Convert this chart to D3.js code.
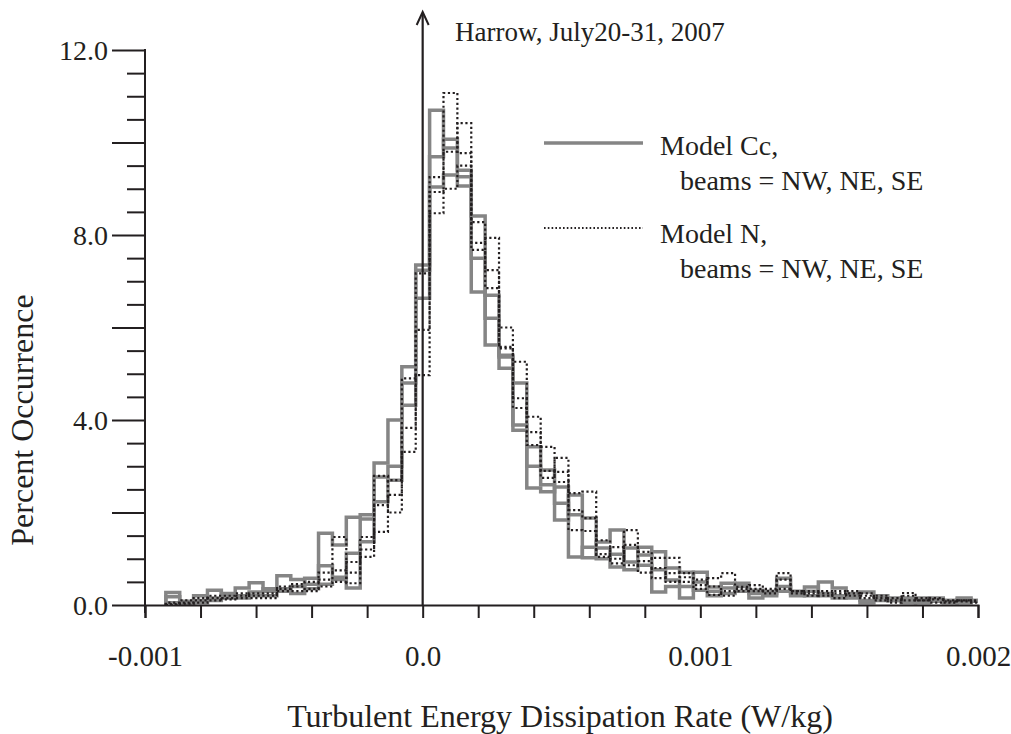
<!DOCTYPE html>
<html><head><meta charset="utf-8">
<script src="https://cdn.jsdelivr.net/npm/d3@7/dist/d3.min.js"></script>
<style>
body{margin:0;background:#fff;}
svg{display:block;}
text{font-family:"Liberation Serif","Times New Roman",serif;fill:#231f20;}
</style></head>
<body>
<svg id="chart" width="1011" height="734"></svg>
<script>
// ---- data ----
const binWidth = 0.00005;
const binK = d3.range(-18, 41); // bin centres = k * binWidth
const ccNW = [0.27,0.05,0.2,0.32,0.15,0.37,0.48,0.3,0.63,0.55,0.45,1.55,1.3,1.9,1.95,3.07,4.0,5.15,7.35,10.7,9.88,9.26,6.77,5.62,5.36,3.78,2.53,2.45,2.55,1.95,1.02,1.36,1.62,0.93,1.25,0.76,0.54,0.15,0.71,0.39,0.37,0.47,0.32,0.2,0.58,0.3,0.2,0.5,0.37,0.2,0.28,0.2,0.1,0.15,0.12,0.15,0.1,0.15,0.1];
const ccNE = [0.18,0.08,0.1,0.15,0.2,0.2,0.28,0.35,0.35,0.25,0.58,0.85,0.6,1.12,1.86,2.77,2.7,4.8,7.24,9.69,10.07,9.4,7.5,6.2,5.12,3.89,3.42,2.92,1.84,2.38,1.88,1.23,0.82,1.23,1.08,1.15,0.8,0.71,0.32,0.3,0.47,0.3,0.25,0.3,0.3,0.25,0.39,0.2,0.15,0.25,0.05,0.15,0.1,0.05,0.15,0.1,0.05,0.12,0.1];
const ccSE = [0.05,0.03,0.05,0.1,0.25,0.15,0.2,0.2,0.3,0.4,0.35,0.45,0.55,0.37,1.37,2.23,3.0,4.32,6.63,9.04,9.3,9.06,8.41,6.7,5.4,4.8,3.0,2.6,2.2,1.04,1.25,1.0,1.1,0.76,0.86,0.28,0.4,0.4,0.5,0.2,0.25,0.4,0.15,0.25,0.4,0.2,0.3,0.25,0.2,0.15,0.1,0.1,0.15,0.1,0.05,0.08,0.1,0.05,0.08];
const nNW = [0.05,0.05,0.1,0.15,0.12,0.2,0.25,0.25,0.4,0.45,0.5,0.7,0.75,0.93,1.04,1.58,2.38,3.31,4.97,8.47,11.07,9.77,8.28,7.24,5.55,4.47,4.07,3.42,2.66,2.05,1.88,1.4,0.9,1.62,1.15,0.58,0.69,0.69,0.43,0.58,0.69,0.39,0.43,0.3,0.69,0.25,0.3,0.2,0.25,0.3,0.15,0.2,0.1,0.26,0.1,0.12,0.08,0.1,0.05];
const nNE = [0.02,0.1,0.15,0.1,0.15,0.15,0.2,0.2,0.35,0.4,0.35,0.55,1.47,0.47,1.47,2.16,2.7,3.83,5.95,9.25,9.8,10.42,7.83,7.94,6.0,5.26,3.74,2.75,3.18,2.42,2.45,1.04,1.25,0.86,0.95,1.02,1.02,0.5,0.35,0.22,0.3,0.35,0.3,0.35,0.55,0.3,0.2,0.3,0.15,0.25,0.2,0.1,0.15,0.1,0.15,0.05,0.1,0.08,0.1];
const nSE = [0.0,0.03,0.05,0.2,0.2,0.25,0.15,0.15,0.3,0.3,0.3,0.4,0.5,0.7,1.2,2.79,2.0,4.9,7.17,8.93,9.0,9.5,7.68,6.85,5.58,4.26,3.46,2.9,2.88,1.62,1.6,1.1,1.0,1.3,0.7,0.8,0.5,0.6,0.55,0.4,0.2,0.3,0.35,0.25,0.35,0.3,0.25,0.25,0.3,0.2,0.25,0.15,0.05,0.2,0.1,0.15,0.05,0.1,0.08];
const grayGroup = [ccNW, ccNE, ccSE];
const dotGroup = [nNW, nNE, nSE];
const yTicks = d3.range(0, 12.01, 0.5);
const yLabelled = [0, 4, 8, 12];
const yLong = [0, 2, 4, 6, 8, 10, 12];
const xTicks = d3.range(-0.001, 0.00201, 0.0002).map(v => +v.toFixed(4));
const xTickLabels = {"-0.001": "-0.001", "0": "0.0", "0.001": "0.001", "0.002": "0.002"};
const titleText = "Harrow, July20-31, 2007";
const xTitle = "Turbulent Energy Dissipation Rate (W/kg)";
const yTitle = "Percent Occurrence";
const legendItems = [
  {name: "Model Cc,", sub: "beams = NW, NE, SE", type: "gray"},
  {name: "Model N,", sub: "beams = NW, NE, SE", type: "dot"}
];

// ---- scales ----
const svg = d3.select("#chart");
const x = d3.scaleLinear().domain([-0.001, 0.002]).range([145, 978]);
const y = d3.scaleLinear().domain([0, 12]).range([605, 50]);
const GRAY = "#858585", INK = "#231f20";

svg.append("defs").append("clipPath").attr("id", "plotclip")
  .append("rect").attr("x", x(-0.001)).attr("y", 0).attr("width", x(0.002) - x(-0.001)).attr("height", y(0) + 1);

function stepPoints(vals) {
  const pts = [];
  vals.forEach((v, i) => {
    const c = binK[i] * binWidth;
    const l = c - binWidth / 2, r = c + binWidth / 2;
    if (i === 0) pts.push([l, 0]);
    pts.push([l, v]); pts.push([r, v]);
    if (i === vals.length - 1) pts.push([r, 0]);
  });
  return pts;
}
const line = d3.line().x(d => x(d[0])).y(d => y(d[1]));

const plot = svg.append("g").attr("clip-path", "url(#plotclip)");
grayGroup.forEach(s => {
  plot.append("path").attr("d", line(stepPoints(s)))
    .attr("fill", "none").attr("stroke", GRAY).attr("stroke-width", 3.5)
    .attr("stroke-linejoin", "miter");
});
dotGroup.forEach(s => {
  plot.append("path").attr("d", line(stepPoints(s)))
    .attr("fill", "none").attr("stroke", INK).attr("stroke-width", 2.2)
    .attr("stroke-dasharray", "2.2,2.6");
});

// ---- axes ----
const yAxis = d3.axisLeft(y).tickValues(yTicks).tickSizeOuter(0)
  .tickFormat(d => yLabelled.includes(d) ? d3.format(".1f")(d) : "");
const gy = svg.append("g").attr("transform", `translate(${x(-0.001)},0)`).call(yAxis);
gy.select(".domain").remove();
gy.selectAll(".tick line").attr("stroke", INK).attr("stroke-width", 2)
  .attr("x2", d => yLong.includes(d) ? -33 : -18);
gy.selectAll(".tick text").attr("x", -37).attr("font-size", 28).attr("dy", "0.34em")
  .style("font-family", "Liberation Serif").attr("fill", INK);
svg.append("line").attr("x1", x(-0.001)).attr("x2", x(-0.001)).attr("y1", y(12) - 1).attr("y2", y(0) + 8)
  .attr("stroke", INK).attr("stroke-width", 2);

const xAxis = d3.axisBottom(x).tickValues(xTicks).tickSizeOuter(0).tickSize(13)
  .tickFormat(d => xTickLabels[String(d)] || "");
const gx = svg.append("g").attr("transform", `translate(0,${y(0)})`).call(xAxis);
gx.select(".domain").attr("stroke", INK).attr("stroke-width", 2);
gx.selectAll(".tick line").attr("stroke", INK).attr("stroke-width", 2);
gx.selectAll(".tick text").attr("y", 40).attr("font-size", 29)
  .style("font-family", "Liberation Serif").attr("fill", INK);

// zero arrow
const ax = x(0);
svg.append("line").attr("x1", ax).attr("x2", ax).attr("y1", y(0)).attr("y2", 13)
  .attr("stroke", INK).attr("stroke-width", 2.2);
svg.append("path").attr("d", `M${ax - 6},${25} L${ax},${12} L${ax + 6},${25}`)
  .attr("fill", "none").attr("stroke", INK).attr("stroke-width", 2);

// titles
svg.append("text").attr("x", 455).attr("y", 41).attr("font-size", 27).text(titleText);
svg.append("text").attr("x", 560).attr("y", 727).attr("text-anchor", "middle").attr("font-size", 32).text(xTitle);
svg.append("text").attr("transform", "translate(33,420) rotate(-90)").attr("text-anchor", "middle")
  .attr("font-size", 32).text(yTitle);

// legend
const lg = svg.append("g");
const legendY = [143, 228];
legendItems.forEach((it, i) => {
  const yy = legendY[i];
  const l = lg.append("line").attr("x1", 544).attr("x2", 643).attr("y1", yy).attr("y2", yy);
  if (it.type === "gray") l.attr("stroke", GRAY).attr("stroke-width", 3.5);
  else l.attr("stroke", INK).attr("stroke-width", 2).attr("stroke-dasharray", "1.6,2.2");
  const off = it.type === "gray" ? 12 : 15;
  lg.append("text").attr("x", 660).attr("y", yy + off).attr("font-size", 28).text(it.name);
  lg.append("text").attr("x", 680).attr("y", yy + off + 35).attr("font-size", 28).text(it.sub);
});
</script>
</body></html>
